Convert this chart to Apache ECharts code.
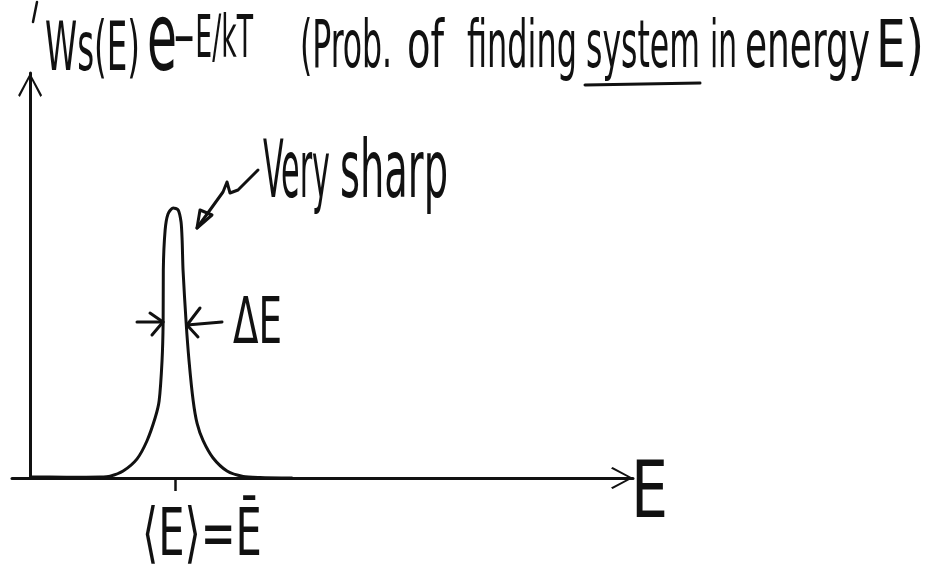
<!DOCTYPE html>
<html>
<head>
<meta charset="utf-8">
<script src="https://cdn.jsdelivr.net/npm/echarts@6/dist/echarts.min.js"></script>
<style>
  html, body { margin: 0; padding: 0; background: #ffffff; }
  #chart { width: 935px; height: 574px; }
</style>
</head>
<body>
<div id="chart"></div>
<script>
// Energy axis samples and the probability of the system having that energy
const energy = [0, 2.0, 3.87, 4.42, 5.14, 5.91, 6.46, 6.91, 7.13, 7.29, 7.35, 7.36, 7.46, 7.62, 7.9,
                8.18, 8.34, 8.40, 8.45, 8.62, 8.78, 9.01, 9.23, 9.56, 10.11, 10.88, 11.77, 12.7, 14.5];
const prob   = [0.004, 0.003, 0.004, 0.007, 0.026, 0.071, 0.138, 0.223, 0.286, 0.435, 0.576, 0.77, 0.918, 0.978, 1.0,
                0.993, 0.948, 0.881, 0.77, 0.576, 0.435, 0.286, 0.201, 0.138, 0.074, 0.026, 0.006, 0.002, 0.0];

// Marked energy on the horizontal axis and its label
const markValues = [8];
const markLabels = ['⟨E⟩=Ē'];
const energyAxisName = 'E';

// Handwritten annotations
const titleWords = ['Ws(E)', 'e', '−E/kT', '(Prob.', 'of', 'finding', 'system', 'in', 'energy', 'E)'];
const noteWords = ['Very', 'sharp'];
const widthLabel = 'ΔE';

const INK = '#111111';
const FAMILY = '"Liberation Sans Narrow", "DejaVu Sans Condensed", sans-serif';
const measurer = document.createElement('canvas').getContext('2d');

// A word squeezed horizontally to a given width, vertically centred on cy
function word(text, left, cy, size, width) {
  measurer.font = size + 'px ' + FAMILY;
  const natural = measurer.measureText(text).width;
  return {
    type: 'text', x: left, y: cy, scaleX: width / natural, silent: true,
    style: { text: text, fontSize: size, fontFamily: FAMILY, fill: INK,
             align: 'left', verticalAlign: 'middle' }
  };
}
function stroke(points, w) {
  return { type: 'polyline', silent: true,
           shape: { points: points },
           style: { stroke: INK, lineWidth: w || 3, fill: null, lineCap: 'round', lineJoin: 'round' } };
}

// Open chevron used as the arrow head on both axes
const chevron = 'path://M5,0 L10,9.3 L9.3,10 L5,1.7 L0.7,10 L0,9.3 Z';

const chart = echarts.init(document.getElementById('chart'), null, { renderer: 'canvas' });

chart.setOption({
  backgroundColor: '#ffffff',
  animation: false,
  grid: { left: 12, right: 302, top: 73, bottom: 96, containLabel: false },
  xAxis: {
    type: 'value', min: -1, max: 33.31,
    axisLine: { onZero: false, symbol: ['none', chevron], symbolSize: [22, 22], symbolOffset: [0, -11],
                lineStyle: { color: INK, width: 3 } },
    axisTick: { show: true, customValues: markValues, length: 13, lineStyle: { color: INK, width: 2.5 } },
    axisLabel: { show: false },
    splitLine: { show: false }
  },
  yAxis: {
    type: 'value', min: 0, max: 1.5,
    axisLine: { onZero: true, symbol: ['none', chevron], symbolSize: [30, 24], symbolOffset: [0, -12],
                lineStyle: { color: INK, width: 3 } },
    axisTick: { show: false },
    axisLabel: { show: false },
    splitLine: { show: false }
  },
  series: [{
    type: 'line',
    data: energy.map((e, i) => [e, prob[i]]),
    smooth: 0.25,
    showSymbol: false,
    lineStyle: { color: INK, width: 3 },
    z: 3
  }]
});

// Annotations: title line, "Very sharp" pointer, width arrows, mark label and axis name
const mark = chart.convertToPixel({ gridIndex: 0 }, [markValues[0], 0]);
const axisEnd = chart.convertToPixel({ gridIndex: 0 }, [33.31, 0]);
const graphics = [
  word(titleWords[0], 45, 52, 68, 95),
  word(titleWords[1], 147, 45, 95, 30),
  word(titleWords[2], 173, 42, 58, 80),
  word(titleWords[3], 300, 50, 66, 92),
  word(titleWords[4], 407, 50, 66, 37),
  word(titleWords[5], 467, 50, 66, 110),
  word(titleWords[6], 586, 50, 66, 114),
  word(titleWords[7], 710, 50, 66, 27),
  word(titleWords[8], 745, 50, 66, 125),
  word(titleWords[9], 876, 50, 66, 48),
  stroke([[585, 85], [700, 83]], 3),
  stroke([[37, 2], [33, 22]], 2.5),
  word(noteWords[0], 263, 176, 80, 67),
  word(noteWords[1], 340, 176, 80, 108),
  stroke([[258, 170], [238, 190], [230, 193], [227, 182], [223, 192], [197, 228]], 3),
  { type: 'polygon', silent: true, shape: { points: [[200, 210], [212, 215], [197, 228]] },
    style: { stroke: INK, lineWidth: 3, fill: null, lineJoin: 'round' } },
  word(widthLabel, 233, 326, 64, 49),
  stroke([[137, 322], [163, 322]], 3),
  stroke([[150, 313], [163, 322], [152, 335]], 3),
  stroke([[222, 322], [187, 325]], 3),
  stroke([[200, 308], [187, 325], [198, 337]], 3),
  word(markLabels[0], mark[0] - 33, 538, 66, 120),
  word(energyAxisName, axisEnd[0] - 2, 497, 78, 37)
];
chart.setOption({ graphic: graphics });
</script>
</body>
</html>
